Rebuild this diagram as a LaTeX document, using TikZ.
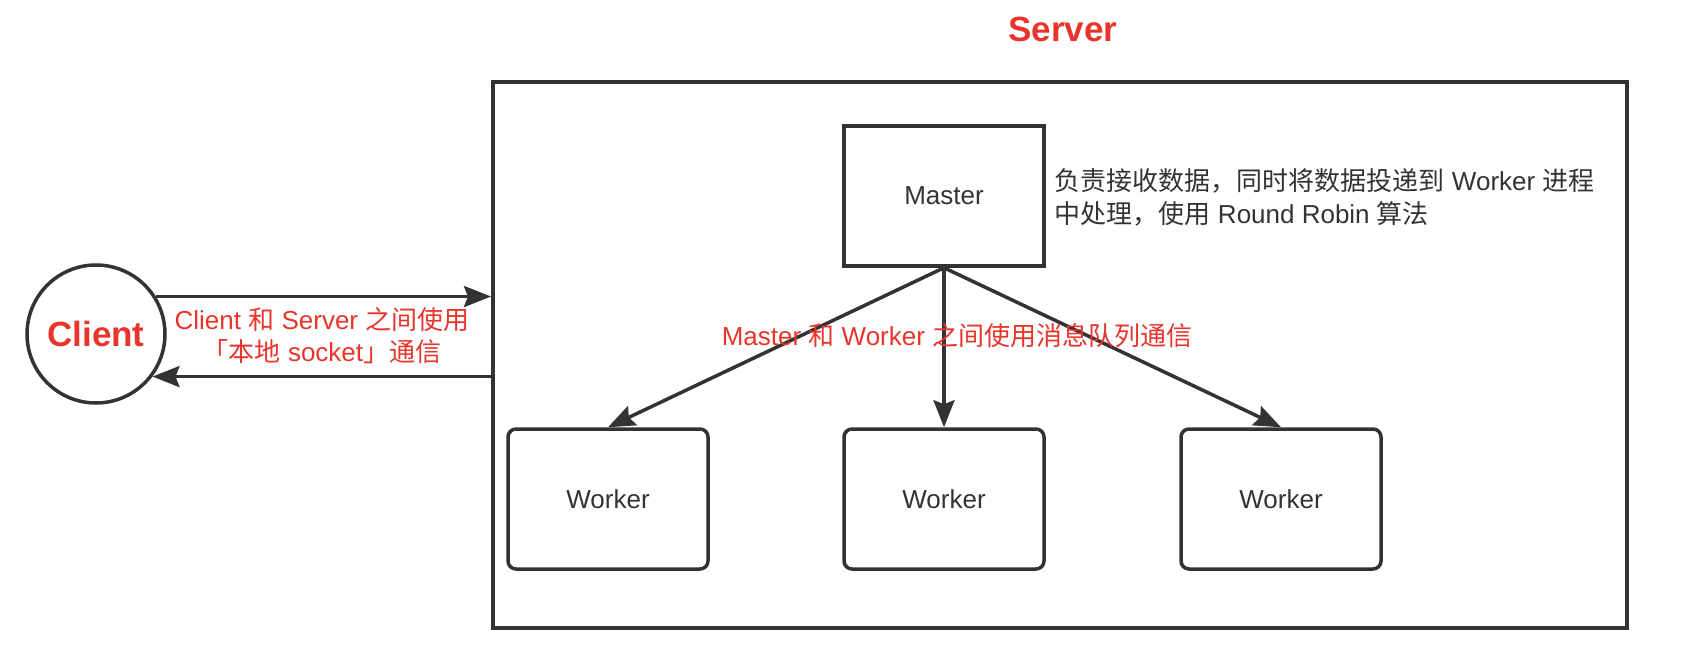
\documentclass[tikz,border=0pt]{standalone}
\usepackage{fontspec}
\setmainfont{Liberation Sans}
\newfontfamily\cjk{Noto Sans CJK SC}
\usepackage{xcolor}
\usepackage{tikz}
\usetikzlibrary{positioning,shapes,arrows.meta}
\definecolor{darkline}{HTML}{333333}
\definecolor{redtext}{HTML}{E8352B}
\tikzstyle{box}=[%
      rectangle, draw=darkline, line width=3.5pt, fill=none, text=darkline,
      minimum width=200pt, minimum height=140pt, inner sep=6pt,
      font=\fontsize{26}{32}\selectfont
]
\tikzstyle{wk}=[box, rounded corners=8pt]
\tikzstyle{frame}=[%
      rectangle, draw=darkline, line width=4pt, fill=none,
      minimum width=1134pt, minimum height=546pt, inner sep=0pt
]
\tikzstyle{client}=[%
      circle, draw=darkline, line width=3.5pt, fill=none, text=redtext,
      minimum size=138pt, inner sep=0pt, font=\bfseries\fontsize{35}{40}\selectfont
]
\tikzstyle{ttl}=[text=redtext, font=\bfseries\fontsize{35}{40}\selectfont]
\tikzstyle{lbl}=[text=redtext, align=center, inner sep=0pt, font=\fontsize{26}{32}\selectfont]
\tikzstyle{note}=[text=darkline, align=left, inner sep=0pt, font=\fontsize{26}{33}\selectfont]

\begin{document}
\begin{tikzpicture}[x=1pt, y=-1pt,
    ->,
    -{Stealth[length=27pt,width=21pt,inset=4pt]},
    line width=3.5pt, color=darkline
  ]
    \useasboundingbox (0,0) rectangle (1688,668);

    \node[ttl]    (title)  at (1063,29)  {Server};
    \node[frame]  (server) at (1060,355) {};
    \node[box]    (master) at (944,196)  {Master};
    \node[wk]     (w1)     at (608,499)  {Worker};
    \node[wk]     (w2)     at (944,499)  {Worker};
    \node[wk]     (w3)     at (1281,499) {Worker};
    \node[client] (client) at (96,334)   {Client};
    \node[note, anchor=west] (duty) at (1053,197)
      {{\cjk 负责接收数据，同时将数据投递到} Worker {\cjk 进程}\\{\cjk 中处理，使用} Round Robin {\cjk 算法}};

    \path (master.south) edge (w1.north)
          (master.south) edge (w2.north)
          (master.south) edge (w3.north)
          (client.32) edge (client.32 -| server.west)
          (server.west |- client.-37) edge (client.-37)
    ;

    \node[lbl] (ipc) at (322,336) {Client {\cjk 和} Server {\cjk 之间使用}\\{\cjk 「本地} socket{\cjk 」通信}};
    \node[lbl] (mq)  at (957,336) {Master {\cjk 和} Worker {\cjk 之间使用消息队列通信}};
  \end{tikzpicture}
\end{document}
